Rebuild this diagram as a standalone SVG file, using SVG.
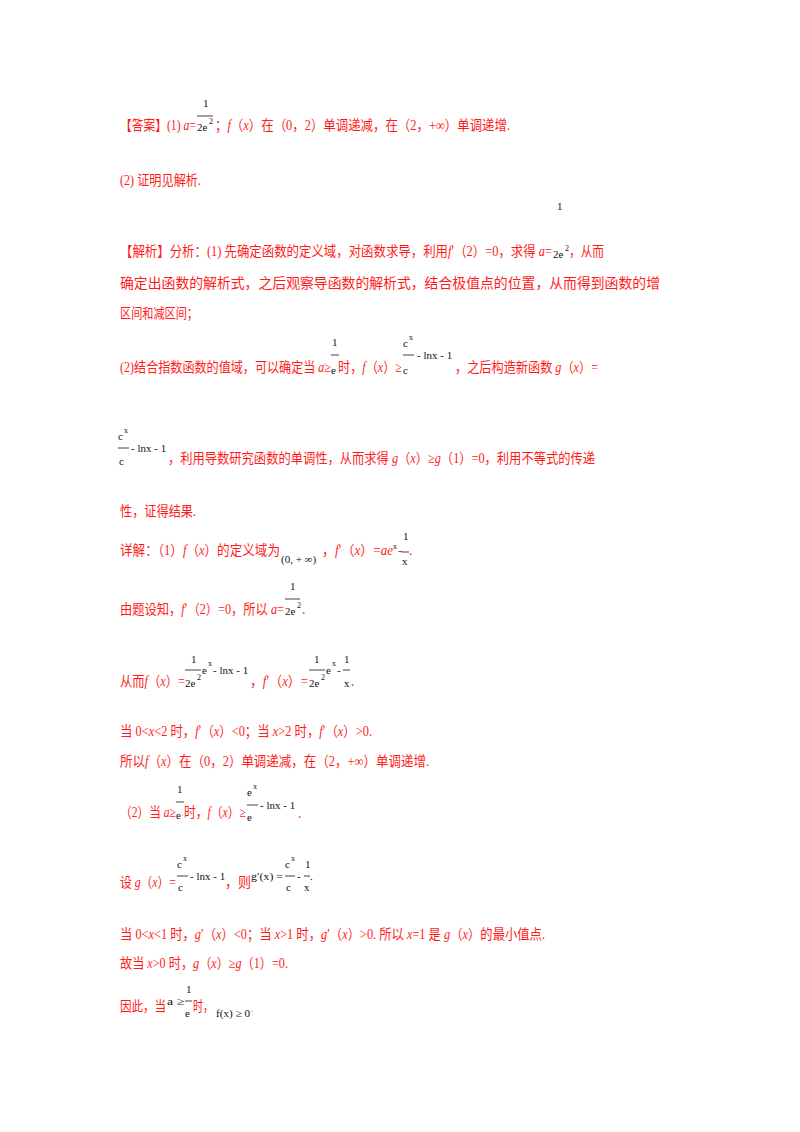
<svg xmlns="http://www.w3.org/2000/svg" width="800" height="1132" viewBox="0 0 800 1132">
<style>
text{font-family:"Liberation Serif","Noto Sans CJK SC",serif;font-size:14px}
.r{fill:#ff1a1a}
.k{fill:#111}
.s{font-size:11px}
.t{font-size:8px}
.i{font-style:italic}
line{stroke:#111;stroke-width:0.8}
</style>
<rect width="800" height="1132" fill="#fff"/>
<g id="answer">
<text class="r" x="120" y="130" textLength="76" lengthAdjust="spacingAndGlyphs">【答案】(1) <tspan class="i">a</tspan>=</text>
<text class="k s" x="203" y="107">1</text><line x1="197" y1="116" x2="213" y2="116"/>
<text class="k s" x="197" y="131">2e</text><text class="k t" x="209" y="124">2</text>
<text class="r" x="215" y="130" textLength="295" lengthAdjust="spacingAndGlyphs">；<tspan class="i">f</tspan>（<tspan class="i">x</tspan>）在（0，2）单调递减，在（2，+∞）单调递增.</text>
<text class="r" x="120" y="185" textLength="81" lengthAdjust="spacingAndGlyphs">(2) 证明见解析.</text>
</g>
<g id="analysis">
<text class="r" x="120" y="256" textLength="432" lengthAdjust="spacingAndGlyphs">【解析】分析：(1) 先确定函数的定义域，对函数求导，利用<tspan class="i">f</tspan>′（2）=0，求得 <tspan class="i">a</tspan>=</text>
<text class="k s" x="557" y="210">1</text>
<text class="k s" x="553" y="258">2e</text><text class="k t" x="565" y="251">2</text>
<text class="r" x="569" y="256" textLength="35" lengthAdjust="spacingAndGlyphs">，从而</text>
<text class="r" x="120" y="288" textLength="540" lengthAdjust="spacingAndGlyphs">确定出函数的解析式，之后观察导函数的解析式，结合极值点的位置，从而得到函数的增</text>
<text class="r" x="120" y="318" textLength="78" lengthAdjust="spacingAndGlyphs">区间和减区间；</text>
<text class="r" x="120" y="372" textLength="211" lengthAdjust="spacingAndGlyphs">(2)结合指数函数的值域，可以确定当 <tspan class="i">a</tspan>≥</text>
<text class="k s" x="332" y="346">1</text><line x1="331" y1="355" x2="339" y2="355"/>
<text class="k s" x="331" y="374">e</text>
<text class="r" x="338" y="372" textLength="64" lengthAdjust="spacingAndGlyphs">时，<tspan class="i">f</tspan>（<tspan class="i">x</tspan>）≥</text>
<text class="k s" x="403" y="347">c</text><text class="k t" x="409" y="340">x</text><line x1="403" y1="355" x2="414" y2="355"/>
<text class="k s" x="403" y="374">c</text>
<text class="k s" x="417" y="359">- lnx - 1</text>
<text class="r" x="455" y="372" textLength="143" lengthAdjust="spacingAndGlyphs">，之后构造新函数 <tspan class="i">g</tspan>（<tspan class="i">x</tspan>）=</text>
<text class="k s" x="118" y="440">c</text><text class="k t" x="124" y="433">x</text><line x1="118" y1="448" x2="129" y2="448"/>
<text class="k s" x="119" y="465">c</text>
<text class="k s" x="131" y="452">- lnx - 1</text>
<text class="r" x="168" y="463" textLength="427" lengthAdjust="spacingAndGlyphs">，利用导数研究函数的单调性，从而求得 <tspan class="i">g</tspan>（<tspan class="i">x</tspan>）≥<tspan class="i">g</tspan>（1）=0，利用不等式的传递</text>
<text class="r" x="120" y="516" textLength="76" lengthAdjust="spacingAndGlyphs">性，证得结果.</text>
</g>
<g id="detail">
<text class="r" x="120" y="555" textLength="160" lengthAdjust="spacingAndGlyphs">详解：（1）<tspan class="i">f</tspan>（<tspan class="i">x</tspan>）的定义域为</text>
<text class="k s" x="281" y="563">(0,  + ∞)</text>
<text class="r" x="322" y="555" textLength="71" lengthAdjust="spacingAndGlyphs">，<tspan class="i">f</tspan>′（<tspan class="i">x</tspan>）=<tspan class="i">ae</tspan></text>
<text class="k t" x="393" y="549">x</text>
<text class="r" x="398" y="555">-</text>
<text class="k s" x="403" y="540">1</text><line x1="402" y1="552" x2="409" y2="552"/>
<text class="k s" x="402" y="565">x</text>
<text class="r" x="409" y="555">.</text>
<text class="r" x="120" y="614" textLength="164" lengthAdjust="spacingAndGlyphs">由题设知，<tspan class="i">f</tspan>′（2）=0，所以 <tspan class="i">a</tspan>=</text>
<text class="k s" x="290" y="590">1</text><line x1="285" y1="599" x2="300" y2="599"/>
<text class="k s" x="285" y="615">2e</text><text class="k t" x="297" y="608">2</text>
<text class="r" x="302" y="614">.</text>
<text class="r" x="120" y="686" textLength="65" lengthAdjust="spacingAndGlyphs">从而<tspan class="i">f</tspan>（<tspan class="i">x</tspan>）=</text>
<text class="k s" x="191" y="663">1</text><line x1="185" y1="670" x2="201" y2="670"/>
<text class="k s" x="185" y="687">2e</text><text class="k t" x="197" y="680">2</text>
<text class="k s" x="202" y="674">e</text><text class="k t" x="208" y="666">x</text>
<text class="k s" x="213" y="674">- lnx - 1</text>
<text class="r" x="250" y="686" textLength="58" lengthAdjust="spacingAndGlyphs">，<tspan class="i">f</tspan>′（<tspan class="i">x</tspan>）=</text>
<text class="k s" x="314" y="663">1</text><line x1="309" y1="670" x2="325" y2="670"/>
<text class="k s" x="309" y="687">2e</text><text class="k t" x="321" y="680">2</text>
<text class="k s" x="326" y="674">e</text><text class="k t" x="332" y="666">x</text>
<text class="k s" x="337" y="674">-</text>
<text class="k s" x="344" y="663">1</text><line x1="343" y1="670" x2="350" y2="670"/>
<text class="k s" x="344" y="687">x</text>
<text class="r" x="351" y="686">.</text>
<text class="r" x="120" y="736" textLength="252" lengthAdjust="spacingAndGlyphs">当 0&lt;<tspan class="i">x</tspan>&lt;2 时，<tspan class="i">f</tspan>′（<tspan class="i">x</tspan>）&lt;0；当 <tspan class="i">x</tspan>&gt;2 时，<tspan class="i">f</tspan>′（<tspan class="i">x</tspan>）&gt;0.</text>
<text class="r" x="120" y="766" textLength="309" lengthAdjust="spacingAndGlyphs">所以<tspan class="i">f</tspan>（<tspan class="i">x</tspan>）在（0，2）单调递减，在（2，+∞）单调递增.</text>
<text class="r" x="120" y="817" textLength="56" lengthAdjust="spacingAndGlyphs">（2）当 <tspan class="i">a</tspan>≥</text>
<text class="k s" x="177" y="793">1</text><line x1="176" y1="802" x2="184" y2="802"/>
<text class="k s" x="176" y="819">e</text>
<text class="r" x="184" y="817" textLength="62" lengthAdjust="spacingAndGlyphs">时，<tspan class="i">f</tspan>（<tspan class="i">x</tspan>）≥</text>
<text class="k s" x="247" y="796">e</text><text class="k t" x="253" y="789">x</text><line x1="247" y1="805" x2="258" y2="805"/>
<text class="k s" x="247" y="821">e</text>
<text class="k s" x="260" y="809">- lnx - 1</text>
<text class="r" x="298" y="818">.</text>
<text class="r" x="120" y="887" textLength="56" lengthAdjust="spacingAndGlyphs">设 <tspan class="i">g</tspan>（<tspan class="i">x</tspan>）=</text>
<text class="k s" x="177" y="868">c</text><text class="k t" x="183" y="861">x</text><line x1="177" y1="876" x2="188" y2="876"/>
<text class="k s" x="178" y="891">c</text>
<text class="k s" x="190" y="880">- lnx - 1</text>
<text class="r" x="225" y="887" textLength="26" lengthAdjust="spacingAndGlyphs">，则</text>
<text class="k s" x="251" y="880" textLength="32" lengthAdjust="spacingAndGlyphs">g′(x) =</text>
<text class="k s" x="285" y="868">c</text><text class="k t" x="291" y="861">x</text><line x1="285" y1="876" x2="295" y2="876"/>
<text class="k s" x="286" y="891">c</text>
<text class="k s" x="297" y="880">-</text>
<text class="k s" x="305" y="868">1</text><line x1="304" y1="876" x2="310" y2="876"/>
<text class="k s" x="304" y="891">x</text>
<text class="k s" x="310" y="880">.</text>
<text class="r" x="120" y="939" textLength="425" lengthAdjust="spacingAndGlyphs">当 0&lt;<tspan class="i">x</tspan>&lt;1 时，<tspan class="i">g</tspan>′（<tspan class="i">x</tspan>）&lt;0；当 <tspan class="i">x</tspan>&gt;1 时，<tspan class="i">g</tspan>′（<tspan class="i">x</tspan>）&gt;0. 所以 <tspan class="i">x</tspan>=1 是 <tspan class="i">g</tspan>（<tspan class="i">x</tspan>）的最小值点.</text>
<text class="r" x="120" y="968" textLength="168" lengthAdjust="spacingAndGlyphs">故当 <tspan class="i">x</tspan>&gt;0 时，<tspan class="i">g</tspan>（<tspan class="i">x</tspan>）≥<tspan class="i">g</tspan>（1）=0.</text>
<text class="r" x="120" y="1011" textLength="46" lengthAdjust="spacingAndGlyphs">因此，当</text>
<text class="k s" x="167" y="1005" textLength="17" lengthAdjust="spacingAndGlyphs">a ≥</text>
<text class="k s" x="186" y="993">1</text><line x1="185" y1="1001" x2="192" y2="1001"/>
<text class="k s" x="185" y="1017">e</text>
<text class="r" x="193" y="1011" textLength="20" lengthAdjust="spacingAndGlyphs">时，</text>
<text class="k s" x="216" y="1017" textLength="34" lengthAdjust="spacingAndGlyphs">f(x) ≥ 0</text>
<text class="k t" x="251" y="1012">.</text>
</g>
</svg>
